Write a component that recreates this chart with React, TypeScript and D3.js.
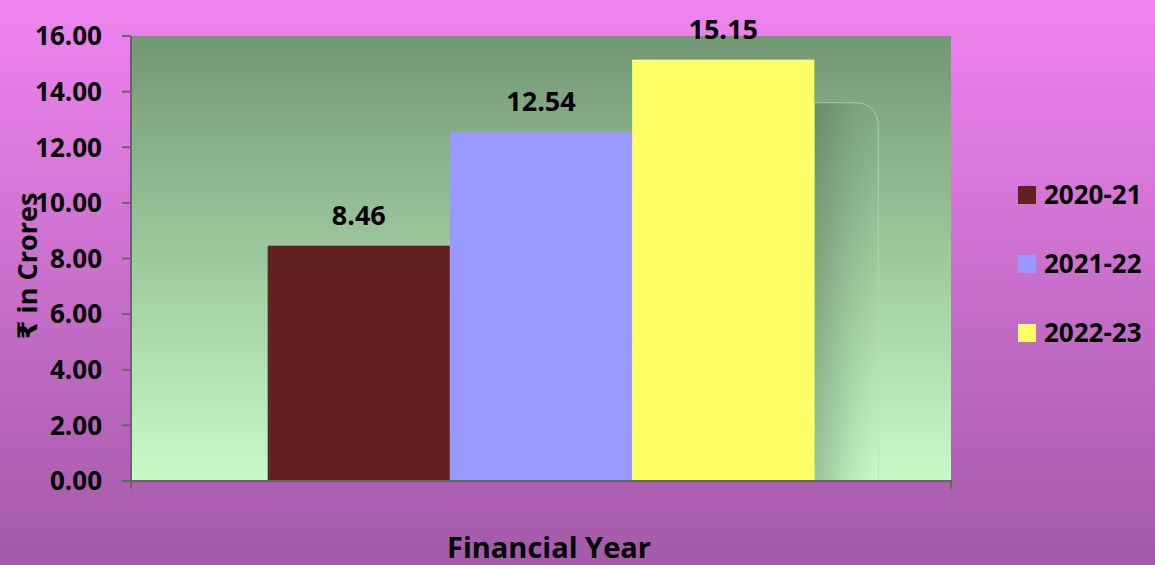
import React from "react";
import * as d3 from "d3";

const years = ["2020-21", "2021-22", "2022-23"];
const amounts = [8.46, 12.54, 15.15];
const barColors = ["#622222", "#9999ff", "#ffff66"];
const yTicks = [0, 2, 4, 6, 8, 10, 12, 14, 16];

const W = 1155;
const H = 565;
const margin = { top: 36, right: 204, bottom: 84, left: 131 };
const font = "'Open Sans', 'DejaVu Sans', sans-serif";

export default function App() {
  const x0 = margin.left;
  const x1 = W - margin.right;
  const yBottom = H - margin.bottom;

  const x = d3
    .scaleBand<string>()
    .domain(years)
    .range([x0, x1])
    .paddingInner(0)
    .paddingOuter(0.75);

  const y = d3.scaleLinear().domain([0, 16]).range([yBottom, margin.top]);

  const last = years.length - 1;
  const shadowX = (x(years[last]) as number) + x.bandwidth();

  return (
    <svg
      width={W}
      height={H}
      style={{ position: "absolute", left: 0, top: 0 }}
      fontFamily={font}
    >
      <defs>
        <linearGradient id="bg" x1="0" y1="0" x2="0" y2="1">
          <stop offset="0" stopColor="#ef84ef" />
          <stop offset="1" stopColor="#a35aa8" />
        </linearGradient>
        <linearGradient id="plot" x1="0" y1="0" x2="0" y2="1">
          <stop offset="0" stopColor="#739874" />
          <stop offset="1" stopColor="#c8fac8" />
        </linearGradient>
        <linearGradient id="shadow" x1="0" y1="0" x2="1" y2="0">
          <stop offset="0" stopColor="#3d6040" stopOpacity="0.35" />
          <stop offset="0.6" stopColor="#3d6040" stopOpacity="0.1" />
          <stop offset="1" stopColor="#3d6040" stopOpacity="0" />
        </linearGradient>
      </defs>
      <rect x={0} y={0} width={W} height={H} fill="url(#bg)" />
      <rect
        x={x0}
        y={margin.top}
        width={x1 - x0}
        height={yBottom - margin.top}
        fill="url(#plot)"
      />

      {/* faint shadow artifact beside the last bar */}
      <path
        d={`M${shadowX},${y(13.6)} H${shadowX + 40} Q${shadowX + 64},${y(13.6)} ${shadowX + 64},${y(12.7)} V${yBottom} H${shadowX} Z`}
        fill="url(#shadow)"
        stroke="#b8d8b8"
        strokeOpacity={0.7}
        strokeWidth={1}
      />

      {years.map((yr, i) => (
        <g key={yr}>
          <rect
            x={x(yr)}
            y={y(amounts[i])}
            width={x.bandwidth()}
            height={yBottom - y(amounts[i])}
            fill={barColors[i]}
          />
          <text
            x={(x(yr) as number) + x.bandwidth() / 2}
            y={y(amounts[i]) - 21}
            textAnchor="middle"
            fontSize={27}
            fontWeight="bold"
          >
            {amounts[i].toFixed(2)}
          </text>
        </g>
      ))}

      {/* axes */}
      <line x1={x0} x2={x0} y1={margin.top} y2={yBottom + 1} stroke="#666" strokeWidth={2} />
      <line x1={x0 - 9} x2={x1 + 1} y1={yBottom} y2={yBottom} stroke="#666" strokeWidth={2} />
      <line x1={x0} x2={x0} y1={yBottom} y2={yBottom + 8} stroke="#666" strokeWidth={2} />
      <line x1={x1} x2={x1} y1={yBottom} y2={yBottom + 8} stroke="#666" strokeWidth={2} />
      {yTicks.map((t) => (
        <g key={t}>
          <line x1={x0 - 9} x2={x0} y1={y(t)} y2={y(t)} stroke="#666" strokeWidth={2} />
          <text
            x={x0 - 29}
            y={y(t)}
            dy="0.36em"
            textAnchor="end"
            fontSize={26}
            fontWeight="bold"
          >
            {t.toFixed(2)}
          </text>
        </g>
      ))}

      <text
        transform={`translate(37,266) rotate(-90)`}
        textAnchor="middle"
        fontSize={27}
        fontWeight="bold"
      >
        ₹ in Crores
      </text>
      <text
        x={(x0 + x1) / 2 + 8}
        y={H - 7}
        textAnchor="middle"
        fontSize={29}
        fontWeight="bold"
      >
        Financial Year
      </text>

      {/* legend */}
      {years.map((yr, i) => (
        <g key={"lg" + yr} transform={`translate(1018,${195 + i * 69})`}>
          <rect x={0} y={-9} width={18} height={18} fill={barColors[i]} />
          <text x={26} y={0} dy="0.36em" fontSize={26} fontWeight="bold">
            {yr}
          </text>
        </g>
      ))}
    </svg>
  );
}
